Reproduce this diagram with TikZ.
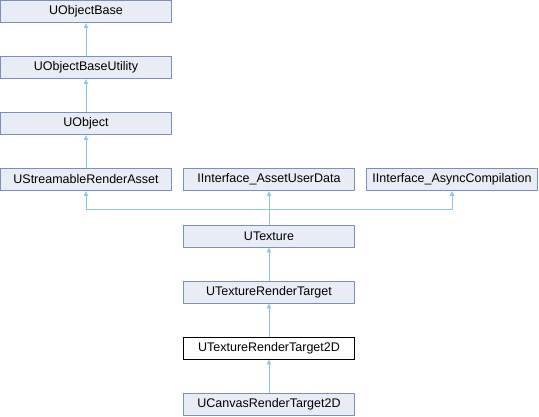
\documentclass[tikz,border=0pt]{standalone}
\usepackage{fontspec}
\setmainfont{Liberation Sans}
\usepackage{xcolor}
\definecolor{dxFill}{RGB}{232, 236, 244}
\definecolor{dxBorder}{RGB}{122, 142, 196}
\definecolor{dxEdge}{RGB}{140, 196, 230}
\usepackage{tikz}
\usetikzlibrary{arrows.meta}

\begin{document}
\begin{tikzpicture}[
    x=1pt, y=-1pt,
    clsBox/.style={
        rectangle,
        draw=dxBorder, line width=0.8pt,
        fill=dxFill, text=black,
        font=\fontsize{12.5}{14}\selectfont,
        align=center, inner sep=0pt, minimum width=171pt, minimum height=22pt
    },
    clsCurrent/.style={
        clsBox, draw=black, fill=white
    },
    inhArrow/.style={
        -{Latex[length=5pt, width=5pt]}, line width=0.8pt, draw=dxEdge
    }
]
    \useasboundingbox (0,0) rectangle (539,416);

    % Base chain
    \node[clsBox] (objBase) at (86, 11.5) {UObjectBase};
    \node[clsBox] (objBaseUtil) at (86, 67.5) {UObjectBaseUtility};
    \node[clsBox] (object) at (86, 123.5) {UObject};

    % Parents of UTexture
    \node[clsBox] (streamAsset) at (86, 179.5) {UStreamableRenderAsset};
    \node[clsBox] (assetUserData) at (269, 179.5) {IInterface\_AssetUserData};
    \node[clsBox] (asyncComp) at (452, 179.5) {IInterface\_AsyncCompilation};

    % Texture chain
    \node[clsBox] (texture) at (269, 236) {UTexture};
    \node[clsBox] (renderTarget) at (269, 292) {UTextureRenderTarget};
    \node[clsCurrent] (renderTarget2d) at (269, 348) {UTextureRenderTarget2D};
    \node[clsBox] (canvasTarget) at (269, 404) {UCanvasRenderTarget2D};

    % Inheritance
    \draw[inhArrow] (objBaseUtil) -- (objBase);
    \draw[inhArrow] (object) -- (objBaseUtil);
    \draw[inhArrow] (streamAsset) -- (object);

    \coordinate (split) at (269, 209);
    \draw[inhArrow] (texture) -- (assetUserData);
    \draw[inhArrow] (split) -| (streamAsset);
    \draw[inhArrow] (split) -| (asyncComp);

    \draw[inhArrow] (renderTarget) -- (texture);
    \draw[inhArrow] (renderTarget2d) -- (renderTarget);
    \draw[inhArrow] (canvasTarget) -- (renderTarget2d);

\end{tikzpicture}
\end{document}
